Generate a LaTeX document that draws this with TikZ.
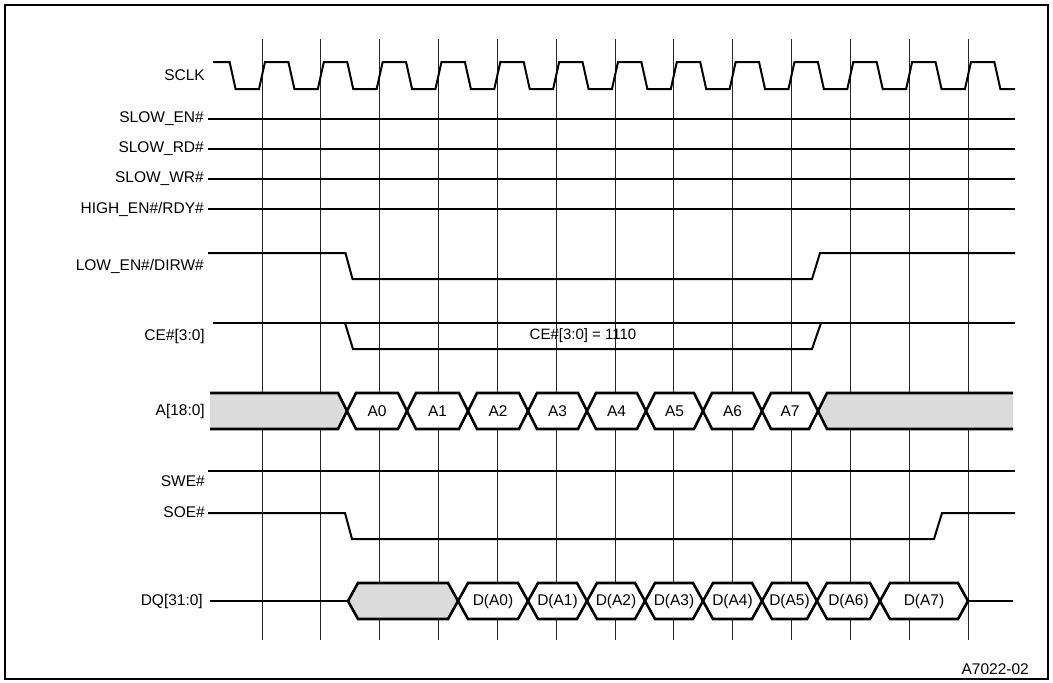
\documentclass[tikz,border=0pt]{standalone}
\usepackage{fontspec}
\setmainfont{Liberation Sans}
\tikzset{
  frame/.style={line width=1.8pt, draw=black},
  gridline/.style={line width=0.9pt, draw=black!85},
  signal/.style={line width=2pt, draw=black, line join=miter},
  busline/.style={line width=2.6pt, draw=black, line join=miter},
  busgray/.style={fill=black!14},
  buscell/.style={fill=white, line width=2.6pt, draw=black, line join=miter},
  siglabel/.style={anchor=east, inner sep=0pt, font=\fontsize{15.5}{17}\selectfont},
  celllabel/.style={inner sep=0pt, font=\fontsize{15.5}{17}\selectfont},
}

\begin{document}
\begin{tikzpicture}[x=1pt,y=-1pt]
\useasboundingbox (0,0) rectangle (1053,683);
\draw[frame] (5,5) rectangle (1048,679);
% clock grid
\foreach \k in {0,...,12}
  \draw[gridline] ({262+58.83*\k},39) -- ({262+58.83*\k},640);
% labels
\node[siglabel] (sclk) at (205,75) {SCLK};
\node[siglabel] (slowen) at (204,119) {SLOW\_EN\#};
\node[siglabel] (slowrd) at (204,149) {SLOW\_RD\#};
\node[siglabel] (slowwr) at (204,179) {SLOW\_WR\#};
\node[siglabel] (highen) at (204,209) {HIGH\_EN\#/RDY\#};
\node[siglabel] (lowen) at (204,266) {LOW\_EN\#/DIRW\#};
\node[siglabel] (ce) at (205,336) {CE\#[3:0]};
\node[siglabel] (addr) at (205,411) {A[18:0]};
\node[siglabel] (swe) at (205,481) {SWE\#};
\node[siglabel] (soe) at (205,512) {SOE\#};
\node[siglabel] (dq) at (203,601) {DQ[31:0]};
% SCLK
\draw[signal] (213,62) -- (229.6,62) -- (235.6,89)
  foreach \k in {0,...,12}{
    -- ({259+58.83*\k},89) -- ({265+58.83*\k},62)
    -- ({288.4+58.83*\k},62) -- ({294.4+58.83*\k},89)}
  -- (1015,89);
% static strobes
\foreach \y in {119,149,179,209,471}
  \draw[signal] (208,\y) -- (1015,\y);
% LOW_EN#/DIRW#
\draw[signal] (208,253) -- (345.5,253) -- (352.5,279) -- (812,279) -- (820,253) -- (1015,253);
% CE#[3:0]
\draw[signal] (213,323) -- (1015,323);
\draw[signal] (345,323) -- (353,349) -- (812,349) -- (821,323);
\node[celllabel, font=\fontsize{15}{17}\selectfont] (cecode) at (583,336) {CE\#[3:0] = 1110};
% A[18:0]
\fill[busgray] (210,393) -- (338,393) -- (347,411) -- (338,429) -- (210,429) -- cycle;
\draw[busline] (210,393) -- (338,393) -- (347,411) -- (338,429) -- (210,429);
\fill[busgray] (1013,393) -- (827,393) -- (818,411) -- (827,429) -- (1013,429) -- cycle;
\draw[busline] (1013,393) -- (827,393) -- (818,411) -- (827,429) -- (1013,429);
\foreach \xa/\xb/\txt [count=\i] in {347/407/A0,407/468/A1,468/528/A2,528/587/A3,
    587/646/A4,646/703/A5,703/762/A6,762/818/A7}{
  \draw[buscell] (\xa,411) -- ({\xa+9},393) -- ({\xb-9},393) -- (\xb,411)
    -- ({\xb-9},429) -- ({\xa+9},429) -- cycle;
  \node[celllabel] (a\i) at ({(\xa+\xb)/2},411) {\txt};
}
% SOE#
\draw[signal] (208,513) -- (345,513) -- (352,539) -- (934,539) -- (942,513) -- (1015,513);
% DQ[31:0]
\draw[signal] (210,601) -- (348,601);
\draw[busline, busgray] (348,601) -- (358,583) -- (448,583) -- (458,601) -- (448,619) -- (358,619) -- cycle;
\foreach \xa/\xb/\txt [count=\i] in {458/528/D(A0),528/587/D(A1),587/645/D(A2),645/703/D(A3),
    703/762/D(A4),762/817/D(A5),817/880/D(A6),880/968/D(A7)}{
  \draw[buscell] (\xa,601) -- ({\xa+10},583) -- ({\xb-10},583) -- (\xb,601)
    -- ({\xb-10},619) -- ({\xa+10},619) -- cycle;
  \node[celllabel] (d\i) at ({(\xa+\xb)/2},601) {\txt};
}
\draw[signal] (968,601) -- (1013,601);
\node[anchor=east, inner sep=0pt, font=\fontsize{15.5}{17}\selectfont] (figid) at (1029,669) {A7022-02};
\end{tikzpicture}
\end{document}
